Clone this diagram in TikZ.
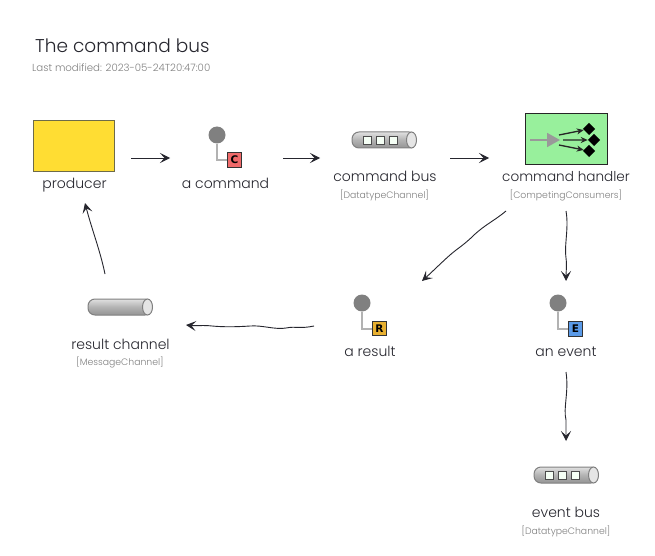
\documentclass[tikz,border=0pt]{standalone}
\usepackage{fontspec}
\setmainfont{Poppins Light}
\newfontfamily\tagfont{DejaVu Sans Bold}
\usetikzlibrary{arrows.meta}
\definecolor{ink}{HTML}{26262E}
\definecolor{subink}{HTML}{808080}
\definecolor{yellowfill}{HTML}{FFDD33}
\definecolor{greenfill}{HTML}{98F09C}
\definecolor{redfill}{HTML}{F06A6A}
\definecolor{amberfill}{HTML}{E8B030}
\definecolor{bluefill}{HTML}{5A9AE8}
\tikzset{
  x=1pt,y=-1pt,
  title/.style={font=\fontsize{18.5}{22}\selectfont,text=ink,anchor=base west,inner sep=0pt},
  subtitle/.style={font=\fontsize{10.2}{12}\selectfont,text=subink,anchor=base west,inner sep=0pt},
  lbl/.style={font=\fontsize{14}{15}\selectfont,text=ink,anchor=base,inner sep=0pt},
  lblh/.style={font=\fontsize{13.6}{15}\selectfont,text=ink,anchor=base,inner sep=0pt},
  sublbl/.style={font=\fontsize{9.3}{10}\selectfont,text=subink,anchor=base,inner sep=0pt},
  conn/.style={draw=ink,line width=0.9pt,-{Stealth[length=10pt,width=10pt,inset=4.5pt]}},
  ball/.style={circle,fill=black!50,draw=none,minimum size=17pt,inner sep=0pt},
  stem/.style={draw=black!30,line width=2pt},
  tag/.style={draw=black!80,line width=1pt,minimum size=14.5pt,inner sep=0pt,font=\tagfont\fontsize{10.5}{10.5}\selectfont,text=black},
  tube/.style={draw=black!50,line width=1pt,rounded corners=7pt,minimum width=64pt,minimum height=16pt,inner sep=0pt,
     top color=black!12,bottom color=black!42,middle color=black!30},
  tubecap/.style={draw=black!50,line width=1pt,fill=black!10},
  slot/.style={draw=black!70,line width=1pt,fill=green!4!white,minimum size=8pt,inner sep=0pt},
  handlerbox/.style={draw=black!85,line width=1pt,fill=greenfill,minimum width=82pt,minimum height=51pt,inner sep=0pt},
  producerbox/.style={draw=black!65!yellow,line width=1pt,fill=yellowfill,minimum width=81pt,minimum height=51pt,inner sep=0pt},
  fan/.style={draw=black!85,line width=1.3pt,-{Stealth[length=7pt,width=6pt]}},
  feed/.style={draw=black!40,line width=1.8pt,-{Triangle[length=13pt,width=14pt]}},
  pick/.style={fill=black,draw=none,rotate=45,minimum size=8.5pt,inner sep=0pt},
}
\begin{document}
\begin{tikzpicture}
\useasboundingbox[fill=white] (0,0) rectangle (655,556);
% title
\node[title] (ttl) at (35,53) {The command bus};
\node[subtitle] (sub) at (32,71.5) {Last modified: 2023-05-24T20:47:00};
% producer
\node[producerbox] (producer) at (73.5,146.5) {};
\node[lbl] (producerL) at (74.5,189) {producer};
% command
\node[ball] (cball) at (217,135) {};
\node[tag,fill=redfill] (ctag) at (234.5,160) {C};
\draw[stem] (cball.south) |- (ctag.west);
\node[lbl] (cmdL) at (225.5,188) {a command};
% command bus
\node[tube] (cbus) at (384,140) {};
\draw[tubecap] (cbus.east) ++(-5,0) ellipse [x radius=5,y radius=8];
\node[slot] (cs1) at (367,140.5) {};
\node[slot] (cs2) at (380,140.5) {};
\node[slot] (cs3) at (393,140.5) {};
\node[lbl] (cbusL) at (385,181) {command bus};
\node[sublbl] (cbusS) at (384.5,198) {[DatatypeChannel]};
% command handler
\node[handlerbox] (handler) at (566,139.5) {};
\coordinate (hIn) at (530,140);
\coordinate (hMid) at (560,140);
\node[pick] (d1) at (589,129) {};
\node[pick] (d2) at (594,140) {};
\node[pick] (d3) at (589,151) {};
\draw[feed] (hIn) -- (hMid);
\draw[fan] (hMid) ++(-1,-5) -- (d1);
\draw[fan] (hMid) ++(3,0) -- (d2);
\draw[fan] (hMid) ++(-1,5) -- (d3);
\node[lblh] (handlerL) at (566,181) {command handler};
\node[sublbl] (handlerS) at (566,198) {[CompetingConsumers]};
% result
\node[ball] (rball) at (362,303) {};
\node[tag,fill=amberfill] (rtag) at (379.5,328.5) {R};
\draw[stem] (rball.south) |- (rtag.west);
\node[lbl] (resultL) at (370,356) {a result};
% event
\node[ball] (eball) at (558,303) {};
\node[tag,fill=bluefill] (etag) at (575.5,329) {E};
\draw[stem] (eball.south) |- (etag.west);
\node[lbl] (eventL) at (566,356) {an event};
% result channel
\node[tube] (rchan) at (120,307) {};
\draw[tubecap] (rchan.east) ++(-5,0) ellipse [x radius=5,y radius=8];
\node[lbl] (rchanL) at (120.5,349) {result channel};
\node[sublbl] (rchanS) at (120,365) {[MessageChannel]};
% event bus
\node[tube] (ebus) at (566,475) {};
\draw[tubecap] (ebus.east) ++(-5,0) ellipse [x radius=5,y radius=8];
\node[slot] (es1) at (549,475.5) {};
\node[slot] (es2) at (562,475.5) {};
\node[slot] (es3) at (575,475.5) {};
\node[lbl] (ebusL) at (566,517) {event bus};
\node[sublbl] (ebusS) at (566,534) {[DatatypeChannel]};
% connector ends
\coordinate (a1) at (131,158); \coordinate (b1) at (170,158);
\coordinate (a2) at (283,158); \coordinate (b2) at (320,158);
\coordinate (a3) at (450,158); \coordinate (b3) at (489,158);
\coordinate (a4) at (506,211); \coordinate (b4) at (422,281);
\coordinate (a5) at (566,211); \coordinate (b5) at (566,281);
\coordinate (a6) at (566,372); \coordinate (b6) at (566,441);
\coordinate (a7) at (314,326); \coordinate (b7) at (186,325);
\coordinate (a8) at (105,274); \coordinate (b8) at (85,203);
% connectors
\draw[conn] (a1) -- (b1);
\draw[conn] (a2) -- (b2);
\draw[conn] (a3) -- (b3);
\draw[conn] (a4) .. controls (494,221) and (486,224) .. (474,235) .. controls (464,245) and (458,248) .. (450,255) .. controls (441,263) and (432,272) .. (b4);
\draw[conn] (a5) .. controls (569,228) and (564,246) .. (566,258) .. controls (567,266) and (566,272) .. (b5);
\draw[conn] (a6) .. controls (569,392) and (563,408) .. (566,420) .. controls (566,428) and (566,434) .. (b6);
\draw[conn] (a7) .. controls (300,329) and (296,326) .. (286,328) .. controls (276,330) and (262,325) .. (250,326) .. controls (236,327) and (222,327) .. (212,326) .. controls (204,325) and (196,326) .. (b7);
\draw[conn] (a8) .. controls (100,250) and (92,230) .. (b8);
\end{tikzpicture}
\end{document}
